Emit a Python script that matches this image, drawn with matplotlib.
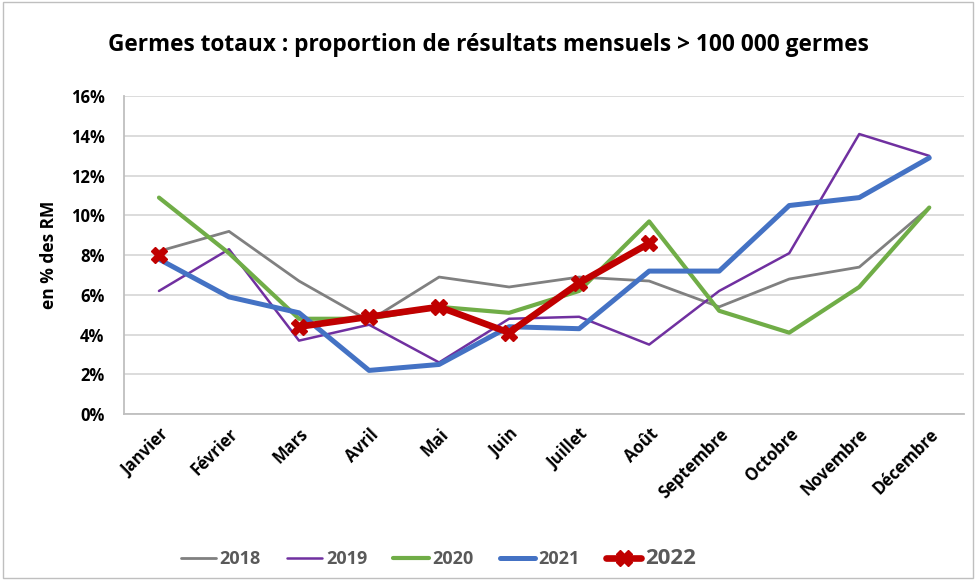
import numpy as np
import matplotlib
matplotlib.use("Agg")
import matplotlib.pyplot as plt
from matplotlib.patches import Rectangle
from matplotlib.ticker import FuncFormatter, MultipleLocator

plt.rcParams['font.family'] = ['Open Sans', 'DejaVu Sans']

months = ["Janvier", "Février", "Mars", "Avril", "Mai", "Juin", "Juillet",
          "Août", "Septembre", "Octobre", "Novembre", "Décembre"]
v2018 = [8.2, 9.2, 6.7, 4.7, 6.9, 6.4, 6.9, 6.7, 5.4, 6.8, 7.4, 10.4]
v2019 = [6.2, 8.3, 3.7, 4.5, 2.6, 4.8, 4.9, 3.5, 6.2, 8.1, 14.1, 13.0]
v2020 = [10.9, 8.1, 4.8, 4.8, 5.4, 5.1, 6.2, 9.7, 5.2, 4.1, 6.4, 10.4]
v2021 = [7.8, 5.9, 5.1, 2.2, 2.5, 4.4, 4.3, 7.2, 7.2, 10.5, 10.9, 12.9]
v2022 = [8.0, np.nan, 4.4, 4.9, 5.4, 4.1, 6.6, 8.6, np.nan, np.nan, np.nan, np.nan]
years = ["2018", "2019", "2020", "2021", "2022"]

fig = plt.figure(figsize=(9.76, 5.8), dpi=100)
ax = fig.add_axes([0.127, 0.286, 0.861, 0.548])
x = np.arange(len(months))

ax.plot(x, v2018, color="#808080", lw=2.0, label=years[0], solid_capstyle='round')
ax.plot(x, v2019, color="#7030A0", lw=1.8, label=years[1], solid_capstyle='round')
ax.plot(x, v2020, color="#70AD47", lw=3.0, label=years[2], solid_capstyle='round')
ax.plot(x, v2021, color="#4472C4", lw=3.6, label=years[3], solid_capstyle='round')
ax.plot(x, v2022, color="#C00000", lw=4.8, marker="X", markersize=12,
        markeredgecolor="#C00000", label=years[4], solid_capstyle='round')

ax.set_xlim(-0.5, 11.5)
ax.set_ylim(0, 16)
ax.yaxis.set_major_locator(MultipleLocator(2))
ax.yaxis.set_major_formatter(FuncFormatter(lambda v, p: f"{int(v)}%"))
ax.grid(axis='y', color="#D9D9D9", lw=1.3)
ax.set_axisbelow(True)
for s in ["top", "right"]:
    ax.spines[s].set_visible(False)
for s in ["left", "bottom"]:
    ax.spines[s].set_color("#BFBFBF")
    ax.spines[s].set_linewidth(1.3)
ax.tick_params(axis='x', length=0, pad=8)
ax.tick_params(axis='y', length=0, pad=14)
ax.set_xticks(x)
ax.set_xticklabels(months, rotation=45, ha="right", rotation_mode="anchor",
                   fontsize=12, fontweight="bold")
for lab in ax.get_yticklabels():
    lab.set_fontsize(12)
    lab.set_fontweight("bold")
ax.set_ylabel("en % des RM", fontsize=12.5, fontweight="bold", labelpad=9)

fig.text(0.5, 0.922, "Germes totaux : proportion de résultats mensuels > 100 000 germes",
         ha="center", va="center", fontsize=16.3, fontweight="bold")

leg = fig.legend(loc="center", bbox_to_anchor=(0.449, 0.037), ncol=5, frameon=False,
                 handlelength=1.95, columnspacing=1.45, handletextpad=0.2,
                 prop={"weight": "bold", "size": 13})
for t in leg.get_texts():
    t.set_color("#595959")
leg.get_texts()[-1].set_fontsize(16)

fig.patches.append(Rectangle((0.003, 0.003), 0.994, 0.994, transform=fig.transFigure,
                             fill=False, edgecolor="#BFBFBF", lw=1.0))

fig.savefig("out.png", dpi=100)
